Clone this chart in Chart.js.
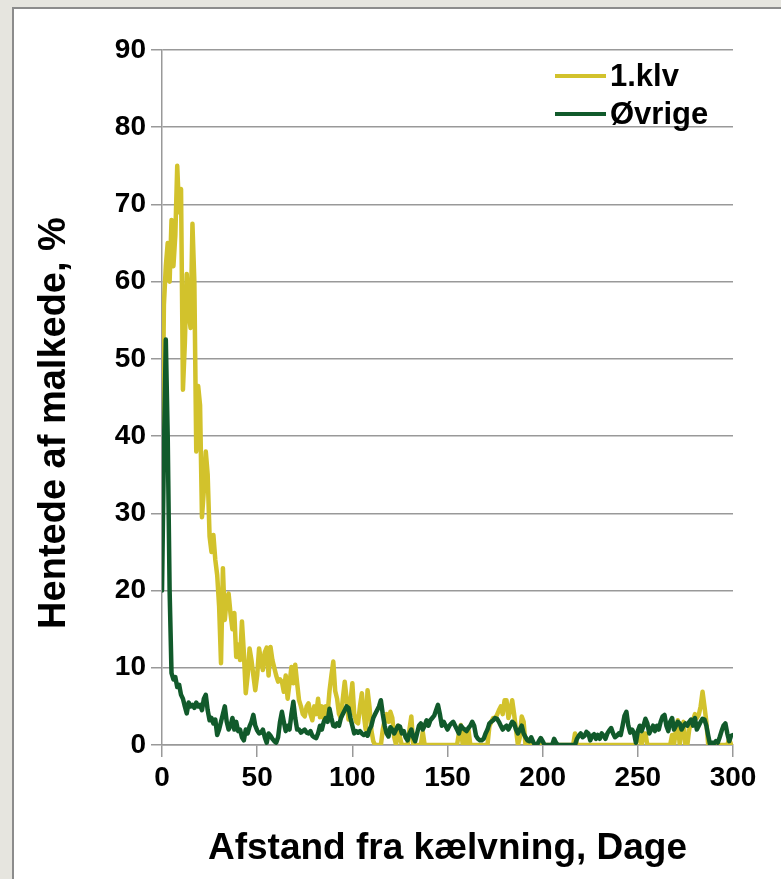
<!DOCTYPE html>
<html>
<head>
<meta charset="utf-8">
<script src="https://cdn.jsdelivr.net/npm/chart.js@4.4.1/dist/chart.umd.min.js"></script>
<style>
  html, body { margin: 0; padding: 0; }
  body { width: 781px; height: 879px; background: #e6e5df; position: relative; overflow: hidden; }
  #frame { position: absolute; left: 12px; top: 7px; width: 780px; height: 880px; background: #ffffff; border-left: 2px solid #8c8c8c; border-top: 2px solid #8c8c8c; }
  #wrap { position: absolute; left: 0; top: 0; width: 781px; height: 879px; }
</style>
</head>
<body>
<div id="frame"></div>
<div id="wrap"><canvas id="c" width="781" height="879"></canvas></div>
<script>
// Categories: days after calving (0..300)
const days = Array.from({length: 301}, (_, i) => i);
const xTicks = [0, 50, 100, 150, 200, 250, 300];
const yTicks = [0, 10, 20, 30, 40, 50, 60, 70, 80, 90];
const seriesNames = ['1.klv', 'Øvrige'];
const xTitle = 'Afstand fra kælvning, Dage';
const yTitle = 'Hentede af malkede, %';

// 1.klv (first lactation), % fetched, per day
const firstLact = [
 33, 57, 62, 65, 60, 68, 62, 66, 75, 69,
 72, 46, 52, 61, 56, 54, 67.5, 60, 38, 46.5,
 44, 29.5, 33, 38, 35, 27, 25, 27.2, 24, 22,
 18, 10.6, 22.9, 16.2, 19, 19.6, 17, 15, 17.1, 11.4,
 13, 11, 16, 12, 6.7, 9, 12.5, 11, 9, 7.1,
 9, 12.5, 11, 9.7, 12, 12.6, 9, 12.7, 11, 10,
 9, 8.2, 8.5, 8.2, 6.9, 9, 6, 8, 10.1, 8,
 10.4, 8, 5.8, 5, 4, 3.7, 5, 5.4, 4, 3.2,
 5, 4, 6, 3.6, 5, 3.4, 5, 4, 7, 9,
 10.8, 7, 6, 4, 3.5, 6, 8.2, 6, 3.3, 5.5,
 8, 4, 3, 2.8, 5, 6.7, 4, 2, 7.1, 5,
 1.9, 0.5, 0, 0, 0, 0, 2, 3.2, 4, 3,
 4.3, 3.5, 1, 0, 2.5, 1, 0, 0, 0, 0,
 2, 3.7, 0, 0, 0, 0, 0, 1.7, 0, 0,
 0, 0, 0, 0, 0, 0, 0, 0, 0, 0,
 0, 0, 0, 0, 0, 0, 1.5, 2.6, 0, 2,
 0, 2, 0, 0, 0, 0, 0, 0, 0, 0,
 0, 0, 2.4, 3, 3.5, 3.5, 3.9, 4.5, 5, 4,
 5.8, 5.8, 3.5, 4.5, 5.8, 4, 2, 0, 1, 3.7,
 3, 0, 0, 0, 0, 0, 0, 0, 0, 0,
 0, 0, 0, 0, 0, 0, 0, 0, 0, 0,
 0, 0, 0, 0, 0, 0, 0, 1.5, 0, 0,
 0, 0, 0, 0, 0, 0, 0, 0, 0, 0,
 0, 0, 0, 0, 0, 0, 0, 0, 0, 0,
 0, 0, 0, 0, 0, 0, 0, 0, 0, 0,
 1.5, 1.2, 0, 1.5, 1.5, 0, 0, 0, 0, 0,
 0, 0, 0, 0, 0, 0, 0, 0, 1.3, 0,
 2, 3.2, 0, 2, 3, 0, 0, 2, 3, 3.2,
 4, 3.5, 3.9, 5, 6.9, 5, 3, 0, 0, 0,
 0, 0, 0, 0, 0, 0, 0, 0, 0.8, 0,
 0
];

// Øvrige (other lactations), % fetched, per day
const others = [
 20, 38, 52.5, 40, 20, 9.3, 8.5, 8.8, 7.5, 7.8,
 6.5, 6, 5, 4.1, 5.5, 5, 5.2, 4.8, 5.5, 5,
 5.2, 4.5, 6, 6.5, 4.5, 3.2, 3.5, 2.8, 3.3, 1.3,
 2, 3, 4, 5, 3, 2, 2.5, 3.5, 2, 3,
 1.8, 2, 1, 0.6, 2, 1.5, 2.4, 3, 3.9, 2.5,
 1.9, 1.5, 1.6, 2, 1, 0.3, 1.5, 1.2, 0.8, 0.5,
 0.3, 1, 3, 4.3, 3, 1.8, 2.5, 2, 4, 5.6,
 3.5, 2, 2, 1.6, 1.8, 2, 1.6, 1.5, 1.8, 1.2,
 1, 0.9, 1.5, 2.5, 2, 3, 3.5, 3, 4.7, 3.5,
 2.5, 2.4, 2.8, 2.5, 3.5, 4, 4.5, 5, 4.8, 3.5,
 2.5, 1.5, 1.8, 1.6, 1.8, 1.5, 1.3, 1.5, 1.2, 2,
 2.5, 3.5, 4, 4.5, 5, 5.8, 4, 2.5, 1.5, 1.1,
 2.3, 2, 1.5, 2, 2.5, 2.4, 1.5, 1.8, 1, 0.6,
 1.5, 2, 1, 0.5, 1.5, 2.5, 2.8, 2, 2.5, 3.2,
 2.5, 3.2, 3.5, 3.8, 4.5, 5.2, 4, 2.5, 3, 2.5,
 2, 2.5, 2.8, 3, 2.5, 2, 1.5, 2.5, 2.2, 2,
 1.8, 2.2, 2.5, 3, 2.5, 1.2, 0.8, 0.6, 0.6, 0.8,
 1.5, 2, 2.8, 3, 3.2, 3.5, 3.4, 3, 2.5, 2,
 2.3, 2.5, 2, 2.5, 3, 2.8, 2, 1.5, 2, 2.5,
 1.5, 1, 0.6, 0.5, 1, 0.4, 0, 0, 0.5, 0.9,
 0.5, 0, 0, 0, 0, 0, 0.8, 0.3, 0, 0,
 0, 0, 0, 0, 0, 0, 0, 0, 0.8, 1.2,
 1.5, 1, 1.2, 1.7, 1.5, 0.6, 1.2, 1.4, 0.8, 1.3,
 0.8, 1.5, 1.2, 0.8, 1.5, 1.9, 2.2, 1.5, 1, 1.2,
 1.5, 1.3, 2.5, 3.8, 4.3, 2.5, 1.6, 2, 1.5, 0.3,
 1.8, 2.5, 1.8, 2.5, 3.4, 2.8, 1.5, 2, 2.5, 1.8,
 2.5, 2, 3, 3.7, 3.9, 2.5, 1.8, 3, 3.5, 2,
 2.5, 3, 2.8, 2, 2.5, 2.8, 2.5, 3, 3.3, 2.5,
 3.5, 2, 2.5, 3, 3.4, 3.3, 2.5, 1.2, 0, 0.3,
 0.2, 0.5, 0.3, 1, 1.8, 2.5, 2.8, 1.5, 0.5, 1.2,
 1.3
];

const FONT = "'Liberation Sans', Arial, sans-serif";
const YELLOW = '#d2c22c';
const GREEN = '#115a2b';

const insideLegend = {
  id: 'insideLegend',
  afterDraw(chart) {
    const ctx = chart.ctx;
    const items = chart.data.datasets;
    const x0 = 555, x1 = 606, tx = 610;
    const ys = [76, 114];
    ctx.save();
    ctx.font = 'bold 31px ' + FONT;
    ctx.textBaseline = 'middle';
    ctx.textAlign = 'left';
    items.forEach((ds, i) => {
      ctx.strokeStyle = ds.borderColor;
      ctx.lineWidth = 4;
      ctx.beginPath();
      ctx.moveTo(x0, ys[i]);
      ctx.lineTo(x1, ys[i]);
      ctx.stroke();
      ctx.fillStyle = '#000';
      ctx.fillText(ds.label, tx, ys[i] + 1);
    });
    ctx.restore();
  }
};

const yAxisTitle = {
  id: 'yAxisTitle',
  afterDraw(chart) {
    const ctx = chart.ctx;
    ctx.save();
    ctx.translate(55, 423);
    ctx.rotate(-Math.PI / 2);
    ctx.font = 'bold 38px ' + FONT;
    ctx.fillStyle = '#000';
    ctx.textAlign = 'center';
    ctx.textBaseline = 'middle';
    ctx.fillText(yTitle, 0, 0);
    ctx.restore();
  }
};

new Chart(document.getElementById('c'), {
  type: 'line',
  data: {
    labels: days,
    datasets: [
      { label: seriesNames[0], data: firstLact, borderColor: YELLOW, backgroundColor: YELLOW, borderWidth: 4.5, pointRadius: 0, tension: 0, borderJoinStyle: 'round', borderCapStyle: 'round', order: 1 },
      { label: seriesNames[1], data: others, borderColor: GREEN, backgroundColor: GREEN, borderWidth: 4.5, pointRadius: 0, tension: 0, borderJoinStyle: 'round', borderCapStyle: 'round', order: 0 }
    ]
  },
  options: {
    responsive: false,
    animation: false,
    layout: { padding: { left: 20, right: 48, top: 50, bottom: 0 } },
    plugins: { legend: { display: false }, tooltip: { enabled: false } },
    scales: {
      x: {
        type: 'linear', min: 0, max: 300,
        afterBuildTicks: (s) => { s.ticks = xTicks.map(v => ({ value: v })); },
        afterFit: (s) => { s.height = 134; },
        border: { display: true, color: '#999999', width: 1.5 },
        grid: { display: true, drawOnChartArea: false, drawTicks: true, tickLength: 12, color: '#999999', lineWidth: 1.5 },
        ticks: { color: '#000', font: { family: FONT, size: 28, weight: 'bold' }, padding: 4, maxRotation: 0 },
        title: { display: true, text: xTitle, color: '#000', font: { family: FONT, size: 37, weight: 'bold' }, padding: { top: 0, bottom: 8 } }
      },
      y: {
        min: 0, max: 90,
        afterBuildTicks: (s) => { s.ticks = yTicks.map(v => ({ value: v })); },
        afterFit: (s) => { s.width = 142; },
        border: { display: true, color: '#999999', width: 1.5 },
        grid: { display: true, drawTicks: true, tickLength: 11, color: '#999999', lineWidth: 1.5 },
        ticks: { color: '#000', font: { family: FONT, size: 28, weight: 'bold' }, padding: 5 },
        title: { display: false }
      }
    }
  },
  plugins: [insideLegend, yAxisTitle]
});
</script>
</body>
</html>
